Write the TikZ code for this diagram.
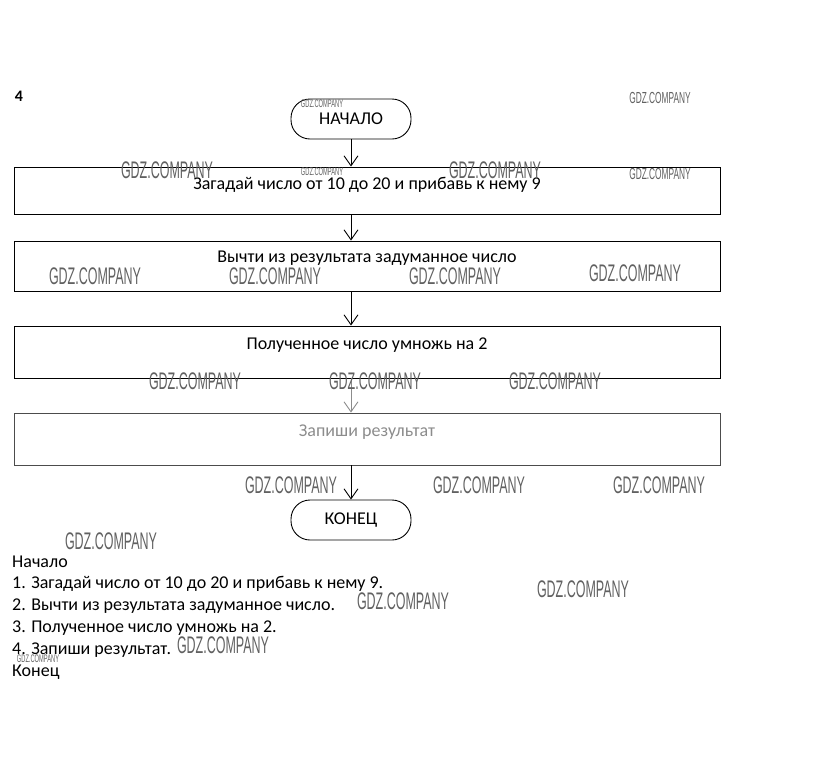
\documentclass[tikz,border=0pt]{standalone}
\usepackage{fontspec}
\setmainfont{Carlito}
\newfontfamily\wmfamily{Liberation Sans}
\usetikzlibrary{arrows.meta}
\newcommand\gdz[1]{\scalebox{0.52}[1]{\wmfamily\fontsize{#1}{#1}\selectfont GDZ.COMPANY}}
\tikzset{
  boxstyle/.style={draw, line width=0.9pt, minimum width=706pt, inner sep=0pt},
  term/.style={draw, line width=0.9pt, rounded corners=19pt, minimum width=120pt, minimum height=40pt, inner sep=0pt, font=\fontsize{18}{21}\selectfont},
  txt/.style={inner sep=0pt, font=\fontsize{18}{21}\selectfont},
  arr/.style={line width=0.9pt, -{Straight Barb[length=10pt,width=14pt,line width=0.9pt]}},
  wm/.style={inner sep=0pt, text=black!62},
  lst/.style={inner sep=0pt, anchor=west, font=\fontsize{18}{21}\selectfont}
}
\begin{document}
\begin{tikzpicture}[x=1pt,y=-1pt]
\useasboundingbox (0,0) rectangle (823,780);
\node[inner sep=0pt, font=\bfseries\fontsize{16}{18}\selectfont] (num) at (19,96) {4};
% terminals
\node[term] (start) at (351,119) {НАЧАЛО};
\node[term] (end) at (351,520) {КОНЕЦ};
% boxes
\node[boxstyle, minimum height=47pt] (b1) at (367,190.5) {};
\node[boxstyle, minimum height=50pt] (b2) at (367,266) {};
\node[boxstyle, minimum height=52pt] (b3) at (367,352) {};
\node[boxstyle, minimum height=52pt, draw=black!70] (b4) at (367,439) {};
\node[txt] (t1) at (367,185) {Загадай число от 10 до 20 и прибавь к нему 9};
\node[txt] (t2) at (367,258) {Вычти из результата задуманное число};
\node[txt] (t3) at (367,345) {Полученное число умножь на 2};
\node[txt, text=black!45] (t4) at (367,432) {Запиши результат};
% arrows
\draw[arr] (start.south) -- (start.south |- b1.north);
\draw[arr] (start.south |- b1.south) -- (start.south |- b2.north);
\draw[arr] (start.south |- b2.south) -- (start.south |- b3.north);
\draw[arr, draw=black!45] (start.south |- b3.south) -- (start.south |- b4.north);
\draw[arr] (start.south |- b4.south) -- (end.north);
% list
\node[lst] (l0) at (12,562) {Начало};
\node[lst] (l1) at (12,584) {1. Загадай число от 10 до 20 и прибавь к нему 9.};
\node[lst] (l2) at (12,606) {2. Вычти из результата задуманное число.};
\node[lst] (l3) at (12,628) {3. Полученное число умножь на 2.};
\node[lst] (l4) at (12,650) {4. Запиши результат.};
\node[lst] (l5) at (12,672) {Конец};
% watermarks
\node[wm] (w1) at (322,104) {\gdz{11}};
\node[wm] (w2) at (660,98) {\gdz{16}};
\node[wm] (w3) at (167,170) {\gdz{24}};
\node[wm] (w4) at (322,172) {\gdz{11}};
\node[wm] (w5) at (495,170) {\gdz{24}};
\node[wm] (w6) at (660,174) {\gdz{16}};
\node[wm] (w7) at (95,276) {\gdz{24}};
\node[wm] (w8) at (275,276) {\gdz{24}};
\node[wm] (w9) at (455,276) {\gdz{24}};
\node[wm] (w10) at (635,273) {\gdz{24}};
\node[wm] (w11) at (195,381) {\gdz{24}};
\node[wm] (w12) at (375,381) {\gdz{24}};
\node[wm] (w13) at (555,381) {\gdz{24}};
\node[wm] (w14) at (291,485) {\gdz{24}};
\node[wm] (w15) at (479,485) {\gdz{24}};
\node[wm] (w16) at (659,485) {\gdz{24}};
\node[wm] (w17) at (111,541) {\gdz{24}};
\node[wm] (w18) at (403,601) {\gdz{24}};
\node[wm] (w19) at (583,589) {\gdz{24}};
\node[wm] (w20) at (223,645) {\gdz{24}};
\node[wm] (w21) at (38,659) {\gdz{11}};
\end{tikzpicture}
\end{document}
